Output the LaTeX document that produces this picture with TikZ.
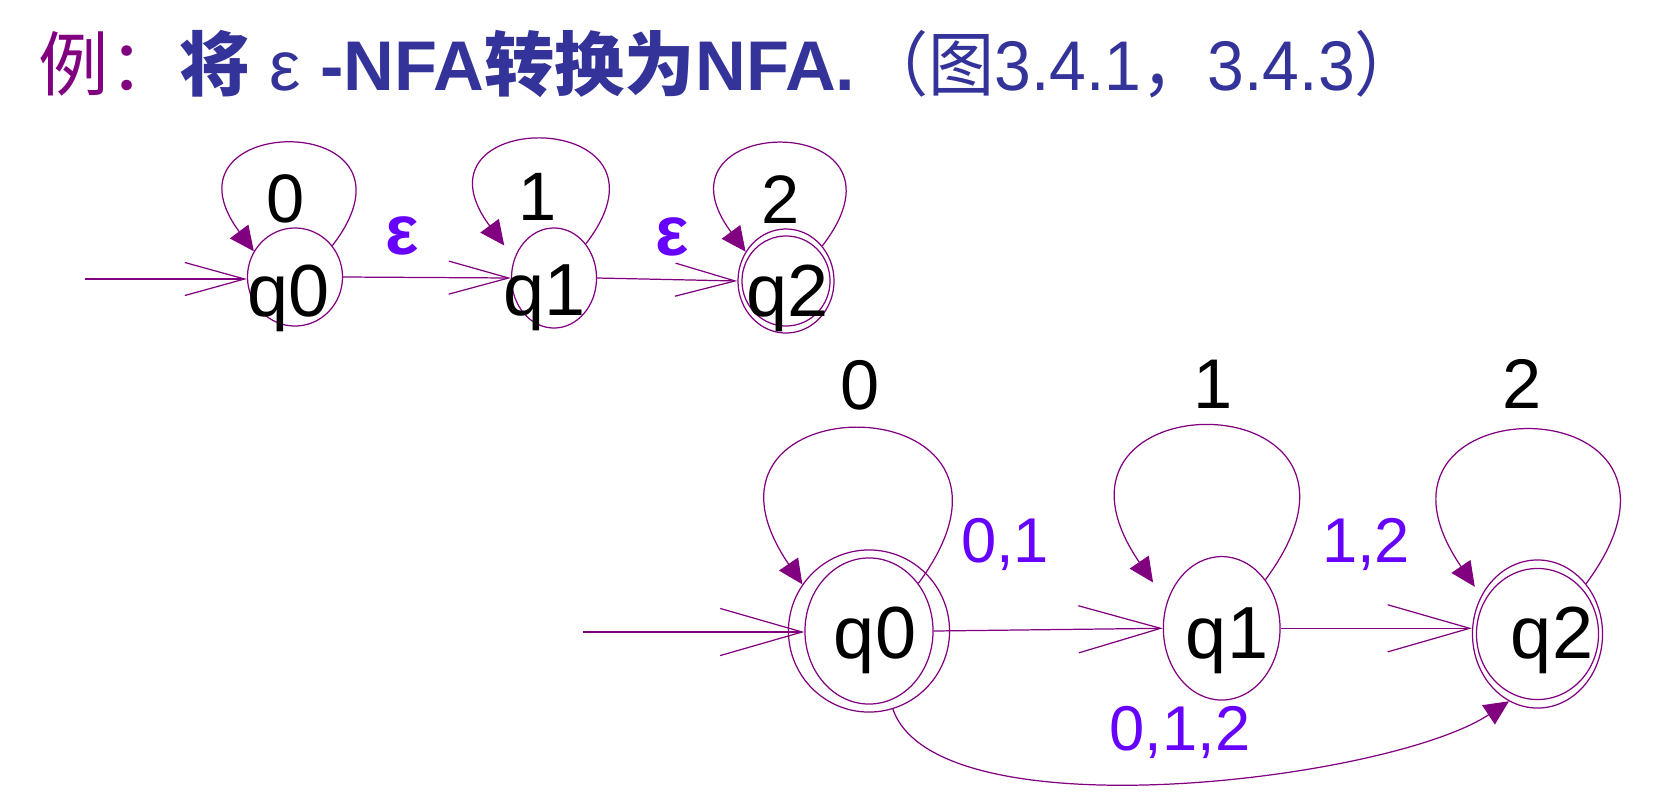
\documentclass[tikz,border=0pt]{standalone}
\usepackage{fontspec}
\setmainfont{Liberation Sans}
\newfontfamily\cjk{Noto Sans CJK SC}
\usepackage{tikz}
\usetikzlibrary{arrows.meta,shapes.geometric}
\definecolor{epurple}{RGB}{128,0,128}
\definecolor{tblue}{RGB}{51,51,153}
\definecolor{lviolet}{RGB}{102,0,255}
\tikzset{
  stnode/.style={draw=epurple, line width=0.35pt, ellipse, inner sep=0pt},
  txt/.style={anchor=base, inner sep=0pt, font=\fontsize{#1}{#1}\selectfont},
  elab/.style={txt=18pt, text=lviolet},
  eps/.style={anchor=base, inner sep=0pt, text=lviolet, font=\fontsize{20pt}{20pt}\selectfont\bfseries},
  openA/.style={draw=epurple, line width=0.35pt, -{Straight Barb[length=17pt,width=9.4pt]}},
  openB/.style={draw=epurple, line width=0.35pt, -{Straight Barb[length=23.3pt,width=13.4pt]}},
  loopedge/.style={draw=epurple, line width=0.35pt, -{Triangle[length=7pt,width=6.5pt]}}
}

\begin{document}
\begin{tikzpicture}[x=0.01cm,y=-0.01cm]
\useasboundingbox (0,0) rectangle (1661,800);

% title
\node[anchor=base west, inner sep=0pt, font=\fontsize{20pt}{24pt}\selectfont] (ttl) at (38,90)
  {{\cjk\color{epurple}例：}{\color{tblue}\bfseries{\cjk 将} {\mdseries ε} -NFA{\cjk 转换为}NFA.}\kern2pt\scalebox{0.94}[1]{\color{tblue}{\cjk （图}3.4.1{\cjk ，}3.4.3{\cjk ）}}};

% epsilon-NFA
\node[stnode, minimum width=0.95cm, minimum height=0.98cm] (a0) at (295,277) {};
\node[stnode, minimum width=0.85cm, minimum height=1.0cm] (a1) at (554,278) {};
\node[stnode, minimum width=0.96cm, minimum height=1.04cm] (a2) at (786,281) {};
\node[stnode, minimum width=0.88cm, minimum height=0.90cm] (a2i) at (a2) {};
\node[txt=21pt] (na0) at (288.5,316) {q0};
\node[txt=21pt] (na1) at (545,315) {q1};
\node[txt=21pt] (na2) at (787.5,316) {q2};

\coordinate (s0) at (85,279);
\draw[openA] (s0) -- (s0 -| a0.west);
\draw[openA] (a0.east) -- (a1.west);
\draw[openA] (a1.east) -- (a2.west);
\draw[loopedge] (a0.40) .. controls +(106,-138) and +(-104,-140) .. (a0.148);
\draw[loopedge] (a1.47) .. controls +(106,-138) and +(-104,-140) .. ([shift={(-12,-8)}]a1.147);
\draw[loopedge] (a2.44) .. controls +(106,-138) and +(-104,-140) .. (a2.144);

\node[txt=19.5pt] (la0) at (286,222) {0};
\node[txt=19.5pt] (la1) at (537.5,220) {1};
\node[txt=19.5pt] (la2) at (780.5,223) {2};
\node[eps] (e1) at (402,254) {ε};
\node[eps] (e2) at (672.5,255) {ε};

% NFA
\node[stnode, minimum width=1.61cm, minimum height=1.62cm] (b0) at (869,631) {};
\node[stnode, minimum width=1.28cm, minimum height=1.46cm] (b0i) at (b0) {};
\node[stnode, minimum width=1.166cm, minimum height=1.434cm] (b1) at (1221.7,628.3) {};
\node[stnode, minimum width=1.30cm, minimum height=1.48cm] (b2) at (1537.5,634) {};
\node[stnode, minimum width=1.22cm, minimum height=1.31cm] (b2i) at (b2) {};
\node[txt=21pt] (nb0) at (875,658) {q0};
\node[txt=21pt] (nb1) at (1227,658) {q1};
\node[txt=21pt] (nb2) at (1552,658) {q2};

\coordinate (s1) at (583,632);
\draw[openB] (s1) -- (s1 -| b0i.west);
\draw[openB] (b0i.east) -- (b1.west);
\draw[openB] (b1.east) -- (b1.east -| b2.west);
\draw[loopedge] (b0i.44) .. controls +(151,-204) and +(-141,-207) .. (b0.145);
\draw[loopedge] (b1.48) .. controls +(151,-204) and +(-141,-207) .. ([shift={(-17,-11)}]b1.146);
\draw[loopedge] (b2.46) .. controls +(151,-204) and +(-141,-207) .. ([shift={(-8,-6)}]b2.143);
\draw[loopedge] (b0.-73) .. controls +(44,127) and +(-119,79) .. (b2.-113);

\node[txt=20pt] (lb0) at (859.7,409) {0};
\node[txt=20pt] (lb1) at (1213,408) {1};
\node[txt=20pt] (lb2) at (1522,408) {2};
\node[elab] (l01) at (1005,562) {0,1};
\node[elab] (l12) at (1366,562) {1,2};
\node[elab] (l012) at (1180,750) {0,1,2};
\end{tikzpicture}
\end{document}
